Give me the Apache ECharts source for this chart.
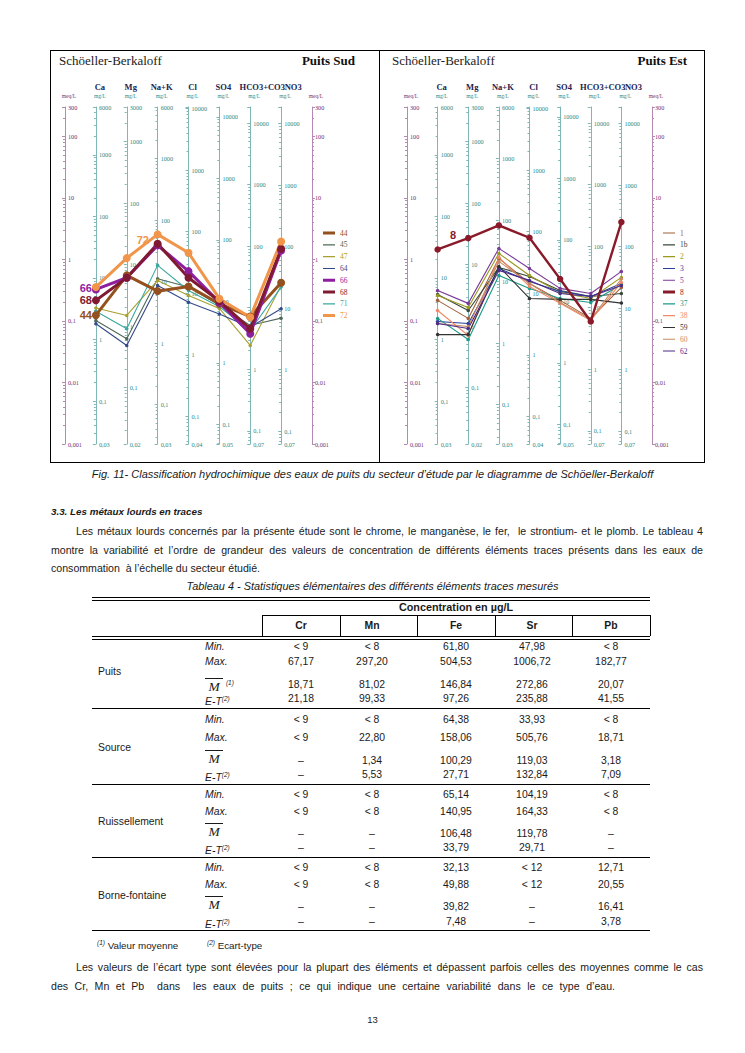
<!DOCTYPE html>
<html lang="fr">
<head>
<meta charset="utf-8">
<title>Schöeller-Berkaloff – Puits Sud / Puits Est</title>
<script src="https://cdn.jsdelivr.net/npm/echarts@6/dist/echarts.min.js"></script>
<style>
html,body{margin:0;padding:0;background:#fff;}
body{position:relative;width:745px;height:1053px;overflow:hidden;font-family:"Liberation Sans",Arial,sans-serif;color:#1a1a1a;}
.t{position:absolute;white-space:nowrap;line-height:12px;height:12px;font-size:10.6px;}
.j{text-align:justify;text-align-last:justify;}
#fig{position:absolute;left:50px;top:50px;width:653px;height:411px;border:1px solid #000;}
#c1{position:absolute;left:0;top:0;width:328px;height:411px;}
#c2{position:absolute;left:328px;top:0;width:324px;height:411px;border-left:1px solid #000;}
.hl{position:absolute;background:#000;height:1px;}
.vl{position:absolute;background:#000;width:1px;}
.sup{font-size:6.5px;vertical-align:4px;font-style:italic;}
.mbar{font-family:"Liberation Serif",serif;font-style:italic;font-size:13.5px;text-decoration:overline;}
.tb{font-size:10.4px;}
</style>
</head>
<body>
<div id="fig"><div id="c1"></div><div id="c2"></div></div>

<div class="t" style="left:0;width:745px;top:468px;text-align:center;font-style:italic;font-size:11px;">Fig. 11- Classification hydrochimique des eaux de puits du secteur d’étude par le diagramme de Schöeller-Berkaloff</div>

<div class="t" style="left:51px;top:506px;font-weight:bold;font-style:italic;font-size:9.8px;">3.3. Les métaux lourds en traces</div>
<div class="t j" style="left:76px;width:627px;top:525px;">Les métaux lourds concernés par la présente étude sont le chrome, le manganèse, le fer,&nbsp; le strontium- et le plomb. Le tableau 4</div>
<div class="t j" style="left:51px;width:652px;top:543.5px;">montre la variabilité et l’ordre de grandeur des valeurs de concentration de différents éléments traces présents dans les eaux de</div>
<div class="t" style="left:51px;top:562px;">consommation&nbsp; à l’échelle du secteur étudié.</div>
<div class="t" style="left:0;width:745px;top:580px;text-align:center;font-style:italic;font-size:10.9px;">Tableau 4 - Statistiques élémentaires des différents éléments traces mesurés</div>

<div id="tbl"></div>

<div class="t" style="left:97px;top:937px;font-size:9.8px;"><span class="sup">(1)</span> Valeur moyenne</div>
<div class="t" style="left:207px;top:937px;font-size:9.8px;"><span class="sup">(2)</span> Ecart-type</div>
<div class="t j" style="left:76px;width:627px;top:961px;">Les valeurs de l’écart type sont élevées pour la plupart des éléments et dépassent parfois celles des moyennes comme le cas</div>
<div class="t j" style="left:51px;width:564px;top:980px;">des Cr, Mn et Pb&nbsp; dans&nbsp; les eaux de puits ; ce qui indique une certaine variabilité dans le ce type d’eau.</div>
<div class="t" style="left:0;width:745px;top:1014px;text-align:center;font-size:9.5px;">13</div>

<script>
// ---------------- chart data ----------------
const columns = ['Ca', 'Mg', 'Na+K', 'Cl', 'SO4', 'HCO3+CO3', 'NO3'];
const eqWeights = [20.04, 12.15, 23.0, 35.45, 48.03, 61.02, 62.0];
const topLabels = ['6000', '3000', '6000', '', '', '', ''];
const bottomLabels = ['0,03', '0,02', '0,03', '0,04', '0,05', '0,07', '0,07'];

// Puits Sud (meq/L) : Ca, Mg, Na+K, Cl, SO4, HCO3+CO3, NO3
const sudNames = ['44', '45', '47', '64', '66', '68', '71', '72'];
const sud44 = [0.124, 0.55, 0.305, 0.364, 0.19, 0.118, 0.418];
const sud45 = [0.102, 0.0514, 0.485, 0.355, 0.18, 0.0845, 0.111];
const sud47 = [0.162, 0.123, 0.456, 0.26, 0.16, 0.040, 0.378];
const sud64 = [0.090, 0.040, 0.378, 0.202, 0.13, 0.0793, 0.158];
const sud66 = [0.325, 0.504, 1.69, 0.645, 0.20, 0.0619, 1.40];
const sud68 = [0.216, 0.504, 1.80, 0.504, 0.21, 0.0746, 1.49];
const sud71 = [0.144, 0.0746, 0.80, 0.313, 0.17, 0.0701, 0.355];
const sud72 = [0.355, 1.05, 2.55, 1.28, 0.23, 0.115, 1.96];

// Puits Est (meq/L)
const estNames = ['1', '1b', '2', '3', '5', '8', '37', '38', '59', '60', '62'];
const est1  = [0.216, 0.110, 1.04, 0.407, 0.216, 0.110, 0.351];
const est1b = [0.270, 0.148, 0.741, 0.529, 0.313, 0.250, 0.280];
const est2  = [0.260, 0.166, 1.25, 0.549, 0.291, 0.232, 0.510];
const est3  = [0.098, 0.091, 0.714, 0.439, 0.302, 0.250, 0.407];
const est5  = [0.313, 0.193, 1.51, 0.714, 0.338, 0.280, 0.638];
const est8  = [1.45, 2.22, 3.57, 2.25, 0.48, 0.098, 4.04];
const est37 = [0.110, 0.050, 0.549, 0.338, 0.232, 0.200, 0.392];
const est38 = [0.148, 0.058, 1.08, 0.364, 0.193, 0.102, 0.423];
const est59 = [0.060, 0.060, 0.770, 0.232, 0.224, 0.224, 0.195];
const est60 = [0.091, 0.081, 0.928, 0.407, 0.200, 0.106, 0.485];
const est62 = [0.091, 0.0755, 0.663, 0.456, 0.280, 0.250, 0.378];

// ---------------- table data ----------------
const tblCols = ['Cr', 'Mn', 'Fe', 'Sr', 'Pb'];
const tblGroups = ['Puits', 'Source', 'Ruissellement', 'Borne-fontaine'];
const puitsMin = ['< 9', '< 8', '61,80', '47,98', '< 8'];
const puitsMax = ['67,17', '297,20', '504,53', '1006,72', '182,77'];
const puitsMoy = ['18,71', '81,02', '146,84', '272,86', '20,07'];
const puitsET  = ['21,18', '99,33', '97,26', '235,88', '41,55'];
const sourceMin = ['< 9', '< 8', '64,38', '33,93', '< 8'];
const sourceMax = ['< 9', '22,80', '158,06', '505,76', '18,71'];
const sourceMoy = ['–', '1,34', '100,29', '119,03', '3,18'];
const sourceET  = ['–', '5,53', '27,71', '132,84', '7,09'];
const ruissMin = ['< 9', '< 8', '65,14', '104,19', '< 8'];
const ruissMax = ['< 9', '< 8', '140,95', '164,33', '< 8'];
const ruissMoy = ['–', '–', '106,48', '119,78', '–'];
const ruissET  = ['–', '–', '33,79', '29,71', '–'];
const borneMin = ['< 9', '< 8', '32,13', '< 12', '12,71'];
const borneMax = ['< 9', '< 8', '49,88', '< 12', '20,55'];
const borneMoy = ['–', '–', '39,82', '–', '16,41'];
const borneET  = ['–', '–', '7,48', '–', '3,78'];

// ---------------- styles ----------------
const sudColors = ['#94501e', '#4f6a5a', '#a8a030', '#34498a', '#8e1ea0', '#801a32', '#3aa8a0', '#f0954a'];
const estColors = ['#a0603a', '#3a4a3a', '#9a9a20', '#2a3f9a', '#7a3a9a', '#8a1a2a', '#1a9a88', '#f08a6a', '#333333', '#c88a60', '#4a2a8a'];
const MEQ_LINE = '#b48ab4', MEQ_TEXT = '#74306f', SP_LINE = '#7fb7b7', SP_TEXT = '#2f8a86';
const SERIF = '"Liberation Serif", "DejaVu Serif", serif';

function fmt(v) {
  let s = v >= 1 ? String(Math.round(v)) : String(Number(v.toPrecision(1)));
  return s.replace('.', ',');
}

function meqAxis(pos) {
  return {
    type: 'log', logBase: 10, min: 0.001, max: 300, position: pos, offset: 0,
    axisLine: { show: true, lineStyle: { color: MEQ_LINE, width: 1 } },
    axisTick: { show: true, length: 3, lineStyle: { color: MEQ_LINE } },
    minorTick: { show: true, splitNumber: 9, length: 2, lineStyle: { color: MEQ_LINE } },
    axisLabel: { inside: pos === 'left', margin: 3, fontSize: 6.2, color: MEQ_TEXT, fontFamily: SERIF,
      showMinLabel: true, showMaxLabel: true, formatter: fmt },
    splitLine: { show: false }
  };
}

function speciesAxis(i, off) {
  const mn = 0.001 * eqWeights[i], mx = 300 * eqWeights[i];
  return {
    type: 'log', logBase: 10, min: mn, max: mx, position: 'left', offset: -off,
    axisLine: { show: true, lineStyle: { color: SP_LINE, width: 1 } },
    axisTick: { show: true, length: 3, lineStyle: { color: SP_LINE } },
    minorTick: { show: true, splitNumber: 9, length: 2, lineStyle: { color: SP_LINE } },
    axisLabel: { inside: true, margin: 3, fontSize: 6.2, color: SP_TEXT, fontFamily: SERIF,
      showMinLabel: true, showMaxLabel: true,
      formatter: function (v) {
        if (Math.abs(v - mn) / mn < 1e-4) return bottomLabels[i];
        if (Math.abs(v - mx) / mx < 1e-4) return topLabels[i];
        return fmt(v);
      } },
    splitLine: { show: false }
  };
}

function headerFmt(v) {
  const i = Math.round(v);
  if (i === 0 || i === 8) return '{m|meq/L}';
  const st = i >= 6 ? 'h2' : 'h';
  return '{' + st + '|' + columns[i - 1] + '}\n{u|mg/L}';
}

const thickIcon = 'path://M0,0L12,0L12,0.02L0,0.02Z M0,1H12V4H0Z M0,5L12,5L12,4.98L0,4.98Z';
const thinIcon = 'path://M0,0L12,0L12,0.02L0,0.02Z M0,2H12V3.1H0Z M0,5L12,5L12,4.98L0,4.98Z';

function buildChart(el, cfg) {
  const chart = echarts.init(el, null, { renderer: 'svg' });
  const W = el.clientWidth;
  const gw = W - cfg.gl - cfg.gr;
  const step = gw / 8;
  const yAxes = [meqAxis('left')];
  columns.forEach(function (c, i) { yAxes.push(speciesAxis(i, step * (i + 1))); });
  yAxes.push(meqAxis('right'));

  const series = cfg.names.map(function (n, k) {
    const thick = cfg.thick.indexOf(n) >= 0;
    const data = cfg.values[k].map(function (v, i) {
      const item = { value: [i + 1, v] };
      const a = cfg.annots.find(function (a) { return a.name === n && a.idx === i; });
      if (a) {
        item.label = { show: true, position: a.pos, offset: a.offset, distance: a.dist,
          formatter: n, color: cfg.colors[k], fontSize: 11, lineHeight: 10, fontWeight: 'bold',
          fontFamily: '"Liberation Sans", Arial, sans-serif' };
      }
      return item;
    });
    return {
      type: 'line', name: n, data: data, xAxisIndex: 0, yAxisIndex: 0,
      symbol: 'circle', symbolSize: thick ? cfg.thickSize : 3.5, showSymbol: true, showAllSymbol: true,
      lineStyle: { width: thick ? cfg.thickW : 1.1, color: cfg.colors[k] },
      itemStyle: { color: cfg.colors[k] },
      label: { show: false }, emphasis: { disabled: true },
      z: thick ? 5 : 3
    };
  });

  chart.setOption({
    animation: false,
    textStyle: { fontFamily: SERIF },
    title: [
      { text: 'Schöeller-Berkaloff', left: cfg.titleLeft, top: 3, padding: 0,
        textStyle: { fontFamily: SERIF, fontSize: 13, fontWeight: 'normal', color: '#222' } },
      { text: cfg.title, right: cfg.titleRight, top: 3, padding: 0,
        textStyle: { fontFamily: SERIF, fontSize: 13, fontWeight: 'bold', color: '#111' } }
    ],
    grid: { left: cfg.gl, right: cfg.gr, top: 56, bottom: 18, containLabel: false, outerBoundsMode: 'none' },
    xAxis: [{
      type: 'value', min: 0, max: 8, interval: 1, position: 'top',
      axisLine: { show: false }, axisTick: { show: false }, splitLine: { show: false },
      axisLabel: { show: true, margin: 7, padding: [0, 0, 0, 8], showMinLabel: true, showMaxLabel: true,
        formatter: headerFmt,
        rich: {
          h: { fontFamily: SERIF, fontWeight: 'bold', fontSize: 8.5, color: '#22224e', lineHeight: 11 },
          h2: { fontFamily: SERIF, fontWeight: 'bold', fontSize: 8.5, color: '#22224e', lineHeight: 11, padding: [0, 0, 0, 16] },
          u: { fontFamily: SERIF, fontSize: 5.5, color: SP_TEXT, lineHeight: 8 },
          m: { fontFamily: SERIF, fontSize: 5.5, color: MEQ_TEXT, lineHeight: 8 }
        } }
    }],
    yAxis: yAxes,
    legend: {
      orient: 'vertical', left: cfg.legendLeft, top: 178, padding: 0,
      itemWidth: 12, itemHeight: 5, itemGap: 3.8, selectedMode: false,
      itemStyle: { borderWidth: 0 },
      textStyle: { fontFamily: SERIF, fontSize: 7.5, lineHeight: 8 },
      data: cfg.names.map(function (n, k) {
        return { name: n, icon: cfg.thick.indexOf(n) >= 0 ? thickIcon : thinIcon,
          itemStyle: { color: cfg.colors[k], borderWidth: 0 }, textStyle: { color: cfg.colors[k] } };
      })
    },
    series: series
  });
  return chart;
}

buildChart(document.getElementById('c1'), {
  title: 'Puits Sud', titleLeft: 8, titleRight: 24,
  gl: 14, gr: 67, legendLeft: 272,
  names: sudNames,
  values: [sud44, sud45, sud47, sud64, sud66, sud68, sud71, sud72],
  colors: sudColors, thick: ['44', '66', '68', '72'], thickW: 3, thickSize: 8,
  annots: [
    { name: '66', idx: 0, pos: 'left', offset: [0, -1], dist: 0 },
    { name: '68', idx: 0, pos: 'left', offset: [0, 0], dist: 0 },
    { name: '44', idx: 0, pos: 'left', offset: [0, 0], dist: 0 },
    { name: '72', idx: 1, pos: 'top', offset: [16, -7], dist: 2 }
  ]
});

buildChart(document.getElementById('c2'), {
  title: 'Puits Est', titleLeft: 12, titleRight: 17,
  gl: 27, gr: 52, legendLeft: 283,
  names: estNames,
  values: [est1, est1b, est2, est3, est5, est8, est37, est38, est59, est60, est62],
  colors: estColors, thick: ['8'], thickW: 2.4, thickSize: 6.5,
  annots: [
    { name: '8', idx: 1, pos: 'left', offset: [-4, -3], dist: 5 }
  ]
});

// ---------------- table ----------------
(function () {
  const tbl = document.getElementById('tbl');
  const X0 = 92, X1 = 650;
  const colEdges = [262, 340, 417, 495, 572, 650];
  const colCenters = [301, 372, 456, 532, 611];
  function hl(x, y, w) { const d = document.createElement('div'); d.className = 'hl'; d.style.left = x + 'px'; d.style.top = y + 'px'; d.style.width = w + 'px'; tbl.appendChild(d); }
  function vl(x, y, h) { const d = document.createElement('div'); d.className = 'vl'; d.style.left = x + 'px'; d.style.top = y + 'px'; d.style.height = h + 'px'; tbl.appendChild(d); }
  function txt(html, cx, cy, opts) {
    const d = document.createElement('div'); d.className = 't tb';
    d.innerHTML = html;
    d.style.top = (cy - 6) + 'px';
    if (opts && opts.left) { d.style.left = cx + 'px'; }
    else { d.style.left = (cx - 60) + 'px'; d.style.width = '120px'; d.style.textAlign = 'center'; }
    if (opts && opts.style) d.style.cssText += opts.style;
    tbl.appendChild(d);
  }
  hl(X0, 597, X1 - X0); hl(X0, 600, X1 - X0);
  txt('Concentration en µg/L', (colEdges[0] + X1) / 2, 607, { style: 'font-weight:bold;font-size:10.8px;' });
  hl(colEdges[0], 615, X1 - colEdges[0]);
  colEdges.forEach(function (x) { vl(x, 615, 21); });
  tblCols.forEach(function (c, i) { txt(c, colCenters[i], 625.5, { style: 'font-weight:bold;' }); });
  hl(X0, 636, X1 - X0); hl(X0, 639, X1 - X0);

  const groupData = [
    [puitsMin, puitsMax, puitsMoy, puitsET],
    [sourceMin, sourceMax, sourceMoy, sourceET],
    [ruissMin, ruissMax, ruissMoy, ruissET],
    [borneMin, borneMax, borneMoy, borneET]
  ];
  const rowY = [[647, 662, 684, 699], [720, 738, 760, 775], [795, 812, 833, 848], [868, 885, 906, 922]];
  const groupLabelY = [672, 748, 822, 896];
  const sepY = [708, 784, 857, 930];
  tblGroups.forEach(function (g, gi) {
    txt(g, 98, groupLabelY[gi], { left: true });
    const statLabels = ['Min.', 'Max.',
      '<span class="mbar">&nbsp;M&nbsp;</span>' + (gi === 0 ? '&nbsp;<span class="sup" style="vertical-align:6px">(1)</span>' : ''),
      'E-T<span class="sup">(2)</span>'];
    statLabels.forEach(function (s, si) {
      txt(s, 205, rowY[gi][si], { left: true, style: 'font-style:italic;' + (si === 2 ? 'height:14px;line-height:14px;margin-top:-2px;' : '') });
      groupData[gi][si].forEach(function (v, ci) {
        txt(v, colCenters[ci], rowY[gi][si] + (si === 2 ? 1 : 0));
      });
    });
    hl(X0, sepY[gi], X1 - X0);
  });
})();
</script>
</body>
</html>
